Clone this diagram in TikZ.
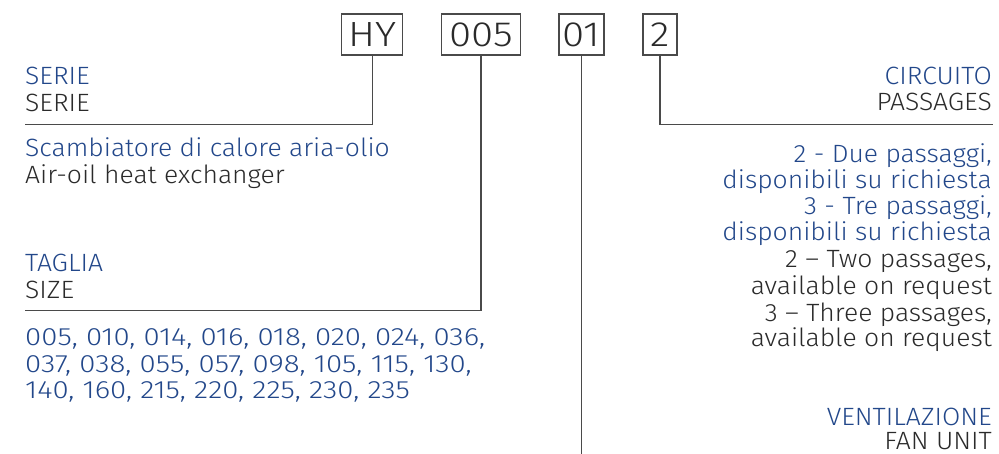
\documentclass[tikz,border=0pt]{standalone}
\usepackage{fontspec}
\setmainfont{Fira Sans Light}
\newfontfamily\lblfont{Fira Sans Light}[FakeStretch=1.06]
\newfontfamily\numfont{Fira Sans Light}[FakeStretch=1.175]
\newfontfamily\boxfont{Fira Sans Light}[FakeStretch=1.15]
\definecolor{cblue}{HTML}{22478A}
\definecolor{cdark}{HTML}{2A2A2A}
\definecolor{cline}{HTML}{4A4A4A}
\begin{document}
\begin{tikzpicture}[x=1pt,y=-1pt,
  codebox/.style={draw=cline,line width=1.2pt,inner sep=0pt,minimum height=41pt,font=\boxfont\fontsize{35}{36}\selectfont,text=cdark},
  lead/.style={draw=cline,line width=1.4pt},
  lbl/.style={inner sep=0pt,font=\lblfont\fontsize{25}{26.5}\selectfont},
  bl/.style={lbl,text=cblue},
  dk/.style={lbl,text=cdark},
  nm/.style={bl,font=\numfont\fontsize{25}{26.5}\selectfont}]
\useasboundingbox (0,0) rectangle (999,454);
% code boxes
\node[codebox,minimum width=61pt] (hy) at (372.2,34.5) {HY};
\node[codebox,minimum width=79pt] (sz) at (481,34.5) {005};
\node[codebox,minimum width=45pt] (fan) at (581.5,34.5) {01};
\node[codebox,minimum width=34pt] (pas) at (660,34.5) {2};
% leader coordinates
\coordinate (hyc) at (hy.south |- 0,124.5);
\coordinate (hye) at (25,124.5);
\coordinate (szc) at (sz.south |- 0,310.5);
\coordinate (sze) at (25,310.5);
\coordinate (fane) at (fan.south |- 0,454);
\coordinate (pasc) at (pas.south |- 0,124.5);
\coordinate (pase) at (992.5,124.5);
\draw[lead] (hy.south) -- (hyc) -- (hye);
\draw[lead] (sz.south) -- (szc) -- (sze);
\draw[lead] (fan.south) -- (fane);
\draw[lead] (pas.south) -- (pasc) -- (pase);
% left texts
\node[bl,anchor=base west] (t1) at (25,85) {SERIE};
\node[dk,anchor=base west] (t2) at (25,111.5) {SERIE};
\node[bl,anchor=base west] (t3) at (25,157) {Scambiatore di calore aria-olio};
\node[dk,anchor=base west] (t4) at (25,183.5) {Air-oil heat exchanger};
\node[bl,anchor=base west] (t5) at (25,272) {TAGLIA};
\node[dk,anchor=base west] (t6) at (25,298.5) {SIZE};
\node[nm,anchor=base west] (t7) at (25,346) {005, 010, 014, 016, 018, 020, 024, 036,};
\node[nm,anchor=base west] (t8) at (25,372.5) {037, 038, 055, 057, 098, 105, 115, 130,};
\node[nm,anchor=base west] (t9) at (25,398.5) {140, 160, 215, 220, 225, 230, 235};
% right texts
\node[bl,anchor=base east] (r1) at (992,84.5) {CIRCUITO};
\node[dk,anchor=base east] (r2) at (992,111) {PASSAGES};
\node[bl,anchor=base east] (r3) at (992,162.5) {2 - Due passaggi,};
\node[bl,anchor=base east] (r4) at (992,189) {disponibili su richiesta};
\node[bl,anchor=base east] (r5) at (992,215) {3 - Tre passaggi,};
\node[bl,anchor=base east] (r6) at (992,241) {disponibili su richiesta};
\node[dk,anchor=base east] (r7) at (992,268) {2 – Two passages,};
\node[dk,anchor=base east] (r8) at (992,294.5) {available on request};
\node[dk,anchor=base east] (r9) at (992,321.5) {3 – Three passages,};
\node[dk,anchor=base east] (r10) at (992,347) {available on request};
\node[bl,anchor=base east] (v1) at (992,425) {VENTILAZIONE};
\node[dk,anchor=base east] (v2) at (992,449) {FAN UNIT};
\end{tikzpicture}
\end{document}
